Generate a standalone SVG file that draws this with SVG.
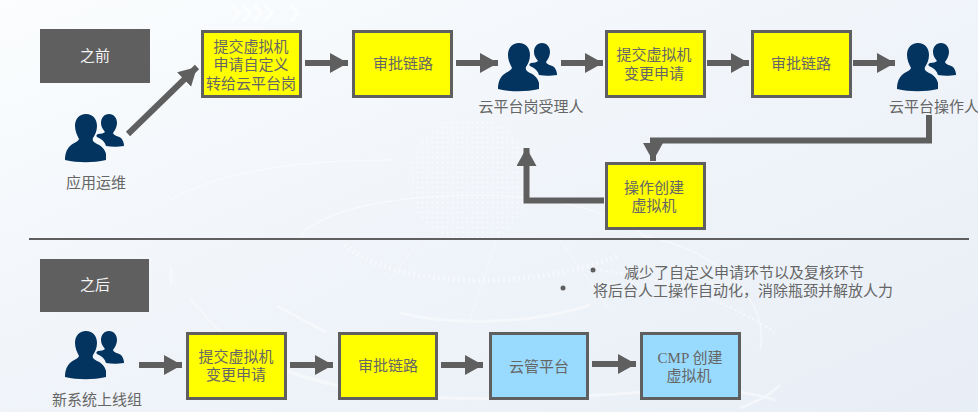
<svg xmlns="http://www.w3.org/2000/svg" width="978" height="412" viewBox="0 0 978 412">
<style>
text{font-family:"Liberation Serif","Noto Sans CJK SC",serif;font-size:15px;fill:#666666;text-anchor:middle}
.box{stroke:#5f5f5f;stroke-width:3}
.y{fill:#ffff00}
.b{fill:#99dbff}
.tag{fill:#5f5f5f}
.tag+text{fill:#f4f4f4}
.ln{fill:none;stroke:#5f5f5f;stroke-width:6}
.deco{fill:none;stroke:#ffffff}
</style>
<defs>
<linearGradient id="bg" x1="0" y1="0" x2="1" y2="1"><stop offset="0" stop-color="#fbfdfe"/><stop offset="0.45" stop-color="#f1f5fa"/><stop offset="1" stop-color="#e8eef6"/></linearGradient>
<pattern id="dots" width="5" height="5" patternUnits="userSpaceOnUse"><circle cx="2.500" cy="2.500" r="1" fill="#ffffff"/></pattern>
<marker id="ah" markerUnits="userSpaceOnUse" markerWidth="22" markerHeight="22" refX="18" refY="10" orient="auto"><path d="M0 0L18 10L0 20Z" fill="#5f5f5f"/></marker>
<symbol id="people" width="60" height="49" viewBox="0 0 60 49" overflow="visible">
<path fill="#03335f" d="M44 0C49 0 52 4 52 9C52 13 50 16 48 19C49 22 53 22 56 24C58 26 59 29 59 32C52 33 47 33 41 32C40 28 37 25 32 23C31 22 31 21 33 20C36 20 39 19 40 18C38 15 36 13 36 9C36 4 39 0 44 0Z"/>
<path fill="#03335f" d="M21 0C28 0 32 5 32 12C32 17 30 21 28 24C27 27 29 28 32 30C37 32 40 36 41 40C41 43 41 45 41 46C28 49 13 49 0 46C0 41 1 36 5 32C8 29 13 28 14 25C12 21 10 17 10 12C10 5 14 0 21 0Z"/>
</symbol>
</defs>
<g id="background">
<rect width="978" height="412" fill="url(#bg)"/>
<circle cx="470" cy="180" r="62" fill="url(#dots)" opacity="0.5"/>
<g class="deco" opacity="0.45">
<path d="M300 235C330 205 410 195 480 195C560 195 620 215 650 240" stroke-width="1.500"/>
<path d="M345 245C390 285 520 295 620 255" stroke-width="5" stroke-dasharray="2 3"/>
<path d="M400 313C450 325 530 325 590 305" stroke-width="3"/>
<path d="M190 298C230 350 280 380 370 392" stroke-width="1.500"/>
<path d="M277 306L326 332" stroke-width="3"/>
<path d="M285 370C350 395 450 405 600 395C680 390 730 385 775 400" stroke-width="3"/>
<path d="M600 270C680 280 740 310 775 332" stroke-width="2" stroke-dasharray="3 2"/>
<path d="M640 235C720 250 770 300 760 350" stroke-width="1.500"/>
<path d="M170 200C220 170 300 160 395 160" stroke-width="1.500"/>
<path d="M740 408C760 400 770 395 780 385" stroke-width="3"/>
<path d="M171 268V283" stroke-width="2.500"/>
<path d="M500 230L470 320M560 240L610 310M420 240L390 280" stroke-width="1"/>
</g>
<path d="M232 5l7 8l-7 8M243 5l7 8l-7 8M254 5l7 8l-7 8M265 5l7 8l-7 8M291 5l7 8l-7 8" fill="none" stroke="#fff" stroke-width="4" opacity="0.55"/>
</g>
<g id="connectors">
<path class="ln" d="M128 134L197 67" marker-end="url(#ah)"/>
<path class="ln" d="M305 63H348" marker-end="url(#ah)"/>
<path class="ln" d="M456 63H498" marker-end="url(#ah)"/>
<path class="ln" d="M561 63H603" marker-end="url(#ah)"/>
<path class="ln" d="M707 63H749" marker-end="url(#ah)"/>
<path class="ln" d="M853 63H895" marker-end="url(#ah)"/>
<path class="ln" d="M929 115V140.500H653V161" marker-end="url(#ah)"/>
<path class="ln" d="M604 200.500H526.500V148" marker-end="url(#ah)"/>
<path class="ln" d="M139 365H182" marker-end="url(#ah)"/>
<path class="ln" d="M290 365H333" marker-end="url(#ah)"/>
<path class="ln" d="M441 365H483" marker-end="url(#ah)"/>
<path class="ln" d="M592 364H636" marker-end="url(#ah)"/>
</g>
<rect id="divider" x="29" y="238" width="940" height="2" fill="#5f5f5f"/>
<g id="tag-before"><rect class="tag" x="40" y="29" width="110" height="54"/><text x="95" y="61">之前</text></g>
<g id="tag-after"><rect class="tag" x="40" y="259" width="109" height="53"/><text x="95" y="290">之后</text></g>
<g id="user-ops"><use href="#people" x="65" y="114"/><text x="96" y="188">应用运维</text></g>
<g id="user-receiver"><use href="#people" x="498" y="43"/><text x="531" y="112">云平台岗受理人</text></g>
<g id="user-operator"><use href="#people" x="897" y="43"/><text x="934" y="112">云平台操作人</text></g>
<g id="user-newsys"><use href="#people" x="65" y="331"/><text x="97" y="405">新系统上线组</text></g>
<g id="n1"><rect class="box y" x="202.500" y="31.500" width="98" height="65"/><text x="251" y="52">提交虚拟机</text><text x="251" y="70">申请自定义</text><text x="251" y="89">转给云平台岗</text></g>
<g id="n2"><rect class="box y" x="353.500" y="31.500" width="98" height="65"/><text x="403" y="69">审批链路</text></g>
<g id="n3"><rect class="box y" x="606.500" y="31.500" width="98" height="65"/><text x="654" y="60">提交虚拟机</text><text x="654" y="79">变更申请</text></g>
<g id="n4"><rect class="box y" x="752.500" y="31.500" width="98" height="65"/><text x="801" y="69">审批链路</text></g>
<g id="n5"><rect class="box y" x="606.500" y="163.500" width="98" height="65"/><text x="654" y="193">操作创建</text><text x="654" y="211">虚拟机</text></g>
<g id="m1"><rect class="box y" x="187.500" y="333.500" width="98" height="65"/><text x="236" y="362">提交虚拟机</text><text x="236" y="380">变更申请</text></g>
<g id="m2"><rect class="box y" x="339.500" y="333.500" width="97" height="65"/><text x="388" y="371">审批链路</text></g>
<g id="m3"><rect class="box b" x="490.500" y="333.500" width="97" height="65"/><text x="539" y="372">云管平台</text></g>
<g id="m4"><rect class="box b" x="641.500" y="333.500" width="98" height="65"/><text x="690" y="363">CMP 创建</text><text x="689" y="381">虚拟机</text></g>
<g id="notes">
<circle cx="593" cy="270" r="2.500" fill="#5f5f5f"/>
<circle cx="563" cy="288" r="2.500" fill="#5f5f5f"/>
<text x="744" y="278">减少了自定义申请环节以及复核环节</text>
<text x="743" y="296">将后台人工操作自动化，消除瓶颈并解放人力</text>
</g>
</svg>
